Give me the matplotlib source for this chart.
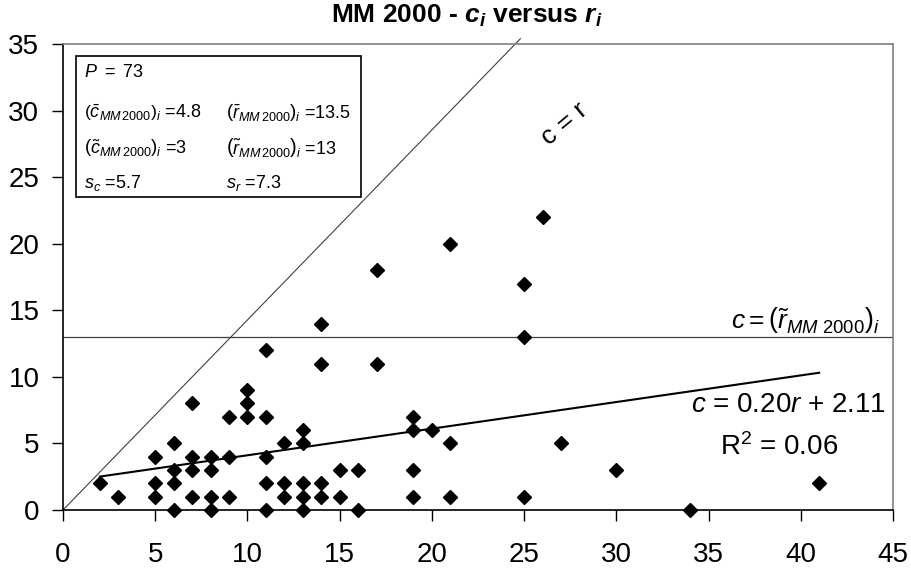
import matplotlib
matplotlib.use('Agg')
import matplotlib.pyplot as plt
from matplotlib.patches import Rectangle

plt.rcParams['font.family'] = ['Liberation Sans', 'DejaVu Sans']
plt.rcParams['mathtext.fontset'] = 'custom'
plt.rcParams['mathtext.rm'] = 'Liberation Sans'
plt.rcParams['mathtext.it'] = 'Liberation Sans:italic'
plt.rcParams['mathtext.bf'] = 'Liberation Sans:bold'
plt.rcParams['mathtext.bfit'] = 'Liberation Sans:bold:italic'

# r_i (x) and c_i (y) values
r = [2, 3, 5, 5, 5, 6, 6, 6, 6, 7, 7, 7, 7, 8, 8, 8, 8, 9, 9, 9,
     10, 10, 10, 11, 11, 11, 11, 11, 12, 12, 12, 13, 13, 13, 13, 13,
     14, 14, 14, 14, 15, 15, 16, 16, 17, 17, 19, 19, 19, 19, 20,
     21, 21, 21, 25, 25, 25, 26, 27, 30, 34, 41]
c = [2, 1, 4, 2, 1, 5, 3, 2, 0, 8, 4, 3, 1, 4, 3, 1, 0, 7, 4, 1,
     9, 8, 7, 12, 7, 4, 2, 0, 5, 2, 1, 6, 5, 2, 1, 0,
     14, 11, 2, 1, 3, 1, 3, 0, 18, 11, 7, 6, 3, 1, 6,
     20, 5, 1, 17, 13, 1, 22, 5, 3, 0, 2]

slope, intercept = 0.20, 2.11
r_median = 13
fit_x = [2, 41]
diag_x = [0, 24.8]
diag_y = [0, 35.4]

fig = plt.figure(figsize=(9.11, 5.71), dpi=100)
ax = fig.add_axes([63/911, 61/571, 830/911, 466/571])

ax.plot(r, c, 'D', color='black', ms=7, zorder=5, clip_on=False)
ax.plot(fit_x, [slope*x + intercept for x in fit_x], color='black', lw=1.5, zorder=4)
ax.axhline(r_median, color='#404040', lw=0.9)
ax.plot(diag_x, diag_y, color='#404040', lw=0.8, clip_on=False)

ax.set_xlim(0, 45)
ax.set_ylim(0, 35)
ax.set_xticks(range(0, 46, 5))
ax.set_yticks(range(0, 36, 5))
ax.tick_params(axis='both', labelsize=20, length=8, width=1, direction='out')
ax.tick_params(axis='x', pad=15)
ax.tick_params(axis='y', pad=9)
for s in ['left', 'bottom']:
    ax.spines[s].set_color('black')
    ax.spines[s].set_linewidth(1.2)
for s in ['top', 'right']:
    ax.spines[s].set_color('#808080')
    ax.spines[s].set_linewidth(1.2)

fig.text(467/911, 1 - 16/571, r'MM 2000 - $\mathbfit{c_i}$ versus $\mathbfit{r_i}$',
         ha='center', va='center', fontsize=19, fontweight='bold')

# annotations
ax.text(27.2, 29.0, 'c = r', rotation=40, fontsize=19, ha='center', va='center')
ax.text(44.3, 13.15, r'$c = \left(\tilde{r}_{MM\ 2000}\right)_i$', fontsize=19,
        ha='right', va='bottom')
ax.text(44.6, 7.9, r'$c$ = 0.20$r$ + 2.11', fontsize=20, ha='right', va='center')
ax.text(38.8, 4.7, r'R$^2$ = 0.06', fontsize=20, ha='center', va='center')

# stats box
ax.add_patch(Rectangle((0.0157, 0.672), 0.343, 0.302, transform=ax.transAxes,
                       fill=True, facecolor='white', edgecolor='black', lw=1.2, zorder=6))
rows = [0.938, 0.852, 0.777, 0.702]
col1, col2 = 0.025, 0.196
kw = dict(transform=ax.transAxes, fontsize=13, va='center', ha='left', zorder=7)
ax.text(col1, rows[0], r'$P\ =\ 73$', **kw)
ax.text(col1, rows[1], r'$\left(\bar{c}_{MM\,2000}\right)_i$ =4.8', **kw)
ax.text(col2, rows[1], r'$\left(\bar{r}_{MM\,2000}\right)_i$ =13.5', **kw)
ax.text(col1, rows[2], r'$\left(\tilde{c}_{MM\,2000}\right)_i$ =3', **kw)
ax.text(col2, rows[2], r'$\left(\tilde{r}_{MM\,2000}\right)_i$ =13', **kw)
ax.text(col1, rows[3], r'$s_c$ =5.7', **kw)
ax.text(col2, rows[3], r'$s_r$ =7.3', **kw)

fig.savefig('out.png', dpi=100)
